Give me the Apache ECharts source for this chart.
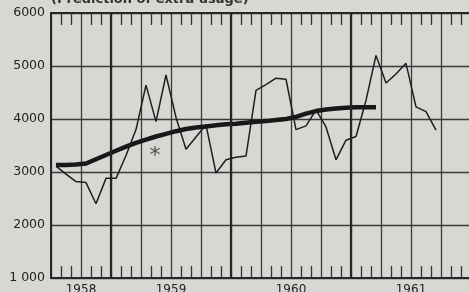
<!DOCTYPE html>
<html>
<head>
<meta charset="utf-8">
<title>Usage chart</title>
<script src="https://cdn.jsdelivr.net/npm/echarts@6/dist/echarts.min.js"></script>
<style>
  html, body { margin: 0; padding: 0; background: #d7d7d4; }
  #chart { width: 469px; height: 292px; }
</style>
</head>
<body>
<div id="chart"></div>
<script>
// months counted from July 1958 (index 0), one value per month
var actualUsage = [3110, 2960, 2820, 2800, 2400, 2880, 2880, 3310, 3800, 4640,
                   3950, 4830, 4030, 3430, 3660, 3890, 2980, 3230, 3280, 3300,
                   4540, 4650, 4770, 4750, 3800, 3870, 4170, 3850, 3230, 3600,
                   3670, 4350, 5200, 4680, 4850, 5050, 4230, 4140, 3790];
var trendUsage = [3130, 3130, 3140, 3160, 3240, 3320, 3400, 3480, 3550, 3610,
                  3670, 3720, 3770, 3810, 3840, 3860, 3880, 3900, 3910, 3930,
                  3950, 3960, 3980, 4000, 4040, 4100, 4150, 4180, 4200, 4210,
                  4220, 4220, 4220];
var yearLabels = { 3: '1958', 12: '1959', 24: '1960', 36: '1961' };
var yearStarts = [6, 18, 30];
var asteriskPoint = [10.4, 3300];
var yTicks = { 1000: '1 000', 2000: '2000', 3000: '3000', 4000: '4000', 5000: '5000', 6000: '6000' };

var ink = '#262626';
var chart = echarts.init(document.getElementById('chart'));

function monthly(arr) {
    return arr.map(function (v, i) { return [i + 0.5, v]; });
}

var xBase = {
    type: 'value', min: 0, max: 42, interval: 3,
    axisLine: { show: true, lineStyle: { color: ink, width: 2 } },
    axisTick: { show: false, inside: true },
    minorTick: { show: true, splitNumber: 3, length: 12, lineStyle: { color: '#333', width: 1.3 } },
    minorSplitLine: { show: false }
};

chart.setOption({
    backgroundColor: '#d7d7d4',
    animation: false,
    title: {
        text: '(Prediction of extra usage)',
        left: 46, top: -12,
        textStyle: { fontFamily: 'DejaVu Sans', fontSize: 13, fontWeight: 'bold', color: '#333' }
    },
    grid: { left: 51, right: -2, top: 13, bottom: 14, outerBoundsMode: 'none' },
    xAxis: [
        Object.assign({}, xBase, {
            position: 'bottom',
            splitLine: { show: true, lineStyle: { color: '#3a3a3a', width: 1.3 } },
            axisLabel: {
                show: true, margin: 6, showMinLabel: true, showMaxLabel: true,
                fontFamily: 'DejaVu Sans', fontSize: 12, color: '#222',
                formatter: function (v) { return yearLabels[v] || ''; }
            }
        }),
        Object.assign({}, xBase, {
            position: 'top',
            splitLine: { show: false },
            axisLabel: { show: false }
        })
    ],
    yAxis: {
        type: 'value', min: 1000, max: 6000, interval: 1000,
        axisLine: { show: true, lineStyle: { color: ink, width: 2 } },
        axisTick: { show: false },
        splitLine: { show: true, lineStyle: { color: '#3a3a3a', width: 1.3 } },
        axisLabel: {
            margin: 6, padding: [0, 0, 8, 0],
            fontFamily: 'DejaVu Sans', fontSize: 12.5, color: '#222',
            formatter: function (v) { return yTicks[v]; }
        }
    },
    series: [
        {
            type: 'line', data: monthly(actualUsage), symbol: 'none',
            lineStyle: { color: '#1e1e1e', width: 1.5 },
            markLine: {
                silent: true, symbol: 'none', label: { show: false },
                lineStyle: { color: ink, width: 2.2, type: 'solid' },
                data: yearStarts.map(function (m) { return { xAxis: m }; })
            },
            z: 3
        },
        {
            type: 'line', data: monthly(trendUsage), symbol: 'none',
            lineStyle: { color: '#181818', width: 4.5 },
            z: 4
        },
        {
            type: 'scatter', data: [asteriskPoint], symbolSize: 0,
            label: {
                show: true, position: 'inside', formatter: '*',
                fontFamily: 'DejaVu Sans', fontSize: 22, color: '#2a2a2a'
            }
        }
    ]
});
</script>
</body>
</html>
